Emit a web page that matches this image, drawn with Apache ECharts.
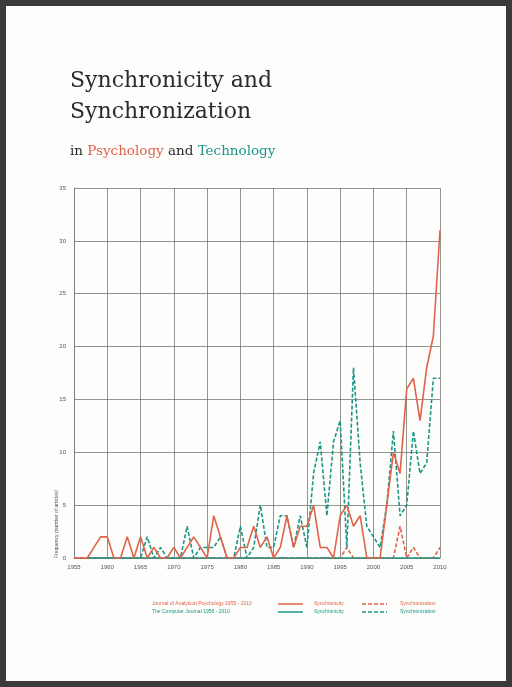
<!DOCTYPE html>
<html><head><meta charset="utf-8">
<script src="https://cdn.jsdelivr.net/npm/echarts@6/dist/echarts.min.js"></script>
<style>html,body{margin:0;padding:0;background:#3a3a3a}#c{width:512px;height:687px}</style>
</head><body><div id="c"></div>
<script>
var years = [];
for (var y = 1955; y <= 2010; y++) years.push(String(y));

// Journal of Analytical Psychology (1955-2010)
var japSynchronicity = [0,0,0,1,2,2,0,0,2,0,2,0,1,0,0,1,0,1,2,1,0,4,2,0,0,1,1,3,1,2,0,1,4,1,3,3,5,1,1,0,4,5,3,4,0,0,0,5,10,8,16,17,13,18,21,31];
var japSynchronization = [0,0,0,0,0,0,0,0,0,0,0,0,0,0,0,0,0,0,0,0,0,0,0,0,0,0,0,0,0,0,0,0,0,0,0,0,0,0,0,0,0,1,0,0,0,0,0,0,0,3,0,1,0,0,0,1];
// The Computer Journal (1958-2010)
var cjSynchronicity = [null,null,0,0,0,0,0,0,0,0,0,0,0,0,0,0,0,0,0,0,0,0,0,0,0,0,0,0,0,0,0,0,0,0,0,0,0,0,0,0,0,0,0,0,0,0,0,0,0,0,0,0,0,0,0,0];
var cjSynchronization = [null,null,0,0,0,0,0,0,0,0,0,2,0,1,0,0,0,3,0,1,1,1,2,0,0,3,0,1,5,1,1,4,4,1,4,1,8,11,4,11,13,1,18,9,3,2,1,5,12,4,5,12,8,9,17,17];
var yTicks = [0,5,10,15,20,25,30,35];

var red = '#e0634a', teal = '#1c9585';
var chart = echarts.init(document.getElementById('c'));
function line(name, data, color, dashed) {
  return { name: name, type: 'line', data: data, symbol: 'none',
    lineStyle: { color: color, width: 1.6, type: dashed ? [4, 2] : 'solid' }, z: dashed ? 3 : 4 };
}
var lgFont = '5px "Liberation Sans"';
chart.setOption({
  backgroundColor: '#3a3a3a',
  animation: false,
  grid: { left: 74, right: 72, top: 188, bottom: 129 },
  xAxis: {
    type: 'category', data: years, boundaryGap: false,
    axisLine: { lineStyle: { color: '#777', width: 0.8 } },
    axisTick: { show: false },
    axisLabel: { interval: 4, color: '#555', fontSize: 6, fontFamily: 'Liberation Sans', margin: 6 },
    splitLine: { show: true, interval: 4, lineStyle: { color: '#666', width: 0.7 } }
  },
  yAxis: {
    type: 'value', min: 0, max: 35, interval: 5,
    axisLine: { show: true, lineStyle: { color: '#777', width: 0.8 } },
    axisTick: { show: false },
    axisLabel: { color: '#555', fontSize: 6, fontFamily: 'Liberation Sans', margin: 8,
      formatter: function (v) { return yTicks.indexOf(v) >= 0 ? v : ''; } },
    splitLine: { lineStyle: { color: '#666', width: 0.7 } }
  },
  graphic: [
    { type: 'rect', z: -10, shape: { x: 6, y: 6, width: 500, height: 675 }, style: { fill: '#fdfdfc' } },
    { type: 'text', left: 70, top: 66, style: { text: 'Synchronicity and\nSynchronization', font: '22px "DejaVu Serif"', lineHeight: 31, fill: '#2b2b2b' } },
    { type: 'text', left: 70, top: 144, style: { text: '{a|in }{r|Psychology}{a| and }{t|Technology}',
      rich: { a: { font: '13.5px "DejaVu Serif"', fill: '#2b2b2b' }, r: { font: '13.5px "DejaVu Serif"', fill: red }, t: { font: '13.5px "DejaVu Serif"', fill: teal } } } },
    { type: 'text', x: 57, y: 558, rotation: Math.PI / 2, style: { text: 'Frequency (number of articles)', font: '5px "Liberation Sans"', fill: '#555', align: 'left', verticalAlign: 'middle' } },
    { type: 'text', left: 152, top: 601, style: { text: 'Journal of Analytical Psychology 1955 - 2010', font: lgFont, fill: red } },
    { type: 'text', left: 152, top: 609, style: { text: 'The Computer Journal 1958 - 2010', font: lgFont, fill: teal } },
    { type: 'line', shape: { x1: 278, y1: 604, x2: 303, y2: 604 }, style: { stroke: red, lineWidth: 1.5 } },
    { type: 'line', shape: { x1: 278, y1: 612, x2: 303, y2: 612 }, style: { stroke: teal, lineWidth: 1.5 } },
    { type: 'line', shape: { x1: 362, y1: 604, x2: 387, y2: 604 }, style: { stroke: red, lineWidth: 1.5, lineDash: [4, 2] } },
    { type: 'line', shape: { x1: 362, y1: 612, x2: 387, y2: 612 }, style: { stroke: teal, lineWidth: 1.5, lineDash: [4, 2] } },
    { type: 'text', left: 314, top: 601, style: { text: 'Synchronicity', font: lgFont, fill: red } },
    { type: 'text', left: 314, top: 609, style: { text: 'Synchronicity', font: lgFont, fill: teal } },
    { type: 'text', left: 400, top: 601, style: { text: 'Synchronization', font: lgFont, fill: red } },
    { type: 'text', left: 400, top: 609, style: { text: 'Synchronization', font: lgFont, fill: teal } }
  ],
  series: [
    line('The Computer Journal Synchronicity', cjSynchronicity, teal, false),
    line('The Computer Journal Synchronization', cjSynchronization, teal, true),
    line('Journal of Analytical Psychology Synchronization', japSynchronization, red, true),
    line('Journal of Analytical Psychology Synchronicity', japSynchronicity, red, false)
  ]
});
</script></body></html>
